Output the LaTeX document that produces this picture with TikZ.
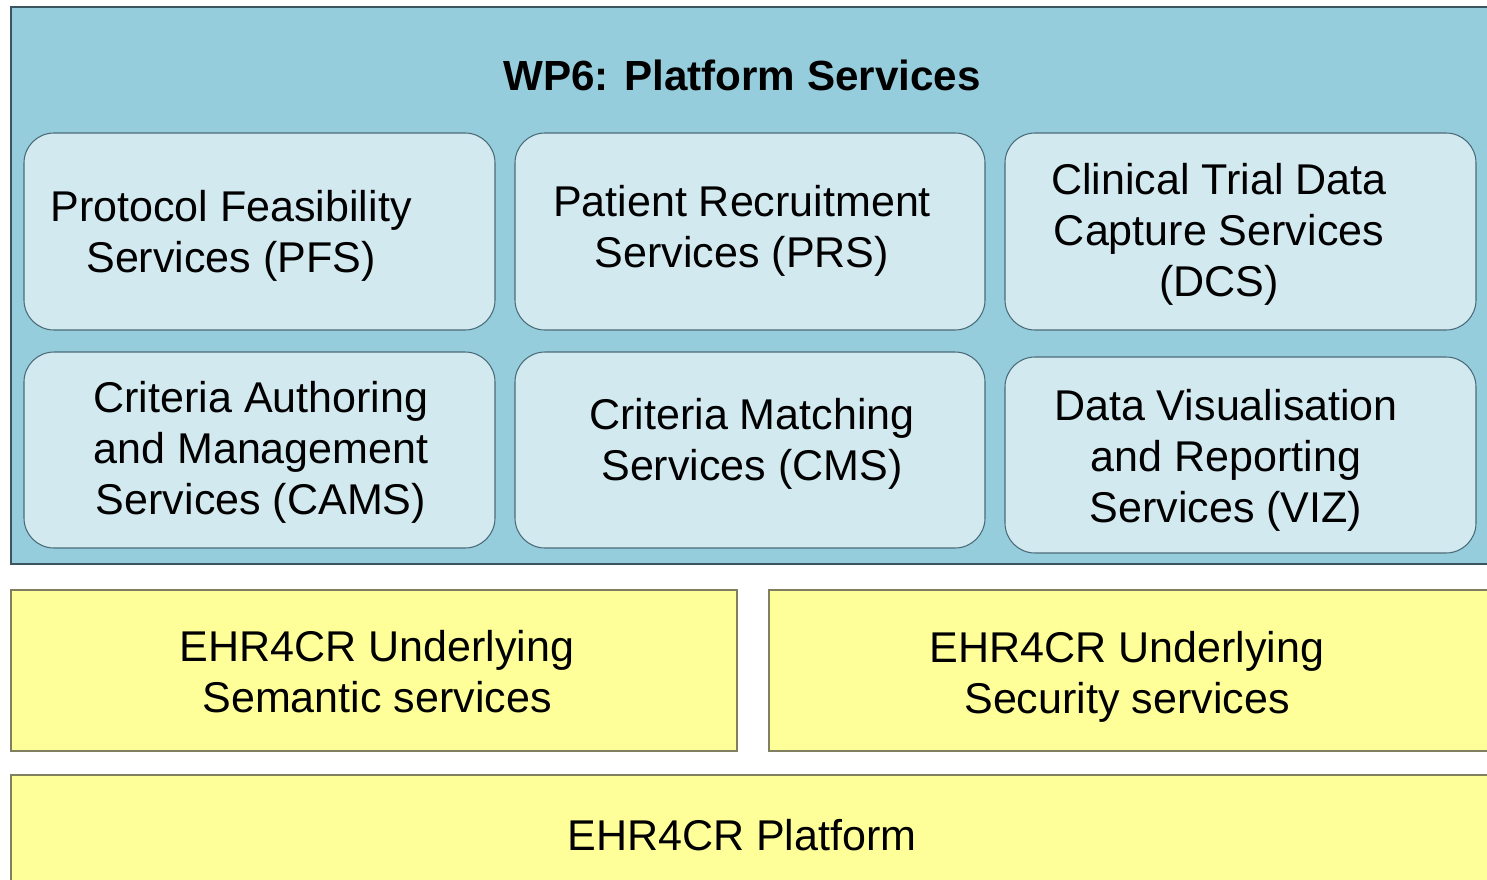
\documentclass[tikz,border=0pt]{standalone}
\usepackage{fontspec}
\setmainfont{Liberation Sans}
\usepackage{tikz}
\definecolor{wpblue}{RGB}{150,205,220}
\definecolor{svcblue}{RGB}{211,233,240}
\definecolor{svcedge}{RGB}{74,106,120}
\definecolor{baseyellow}{RGB}{255,255,153}
\definecolor{baseedge}{RGB}{128,128,96}
\tikzset{
  svcbox/.style={draw=svcedge, line width=0.6pt, fill=svcblue, rounded corners=0.6cm},
  basebox/.style={draw=baseedge, line width=0.8pt, fill=baseyellow},
  svctext/.style={align=center, font=\fontsize{24.5}{29}\selectfont},
}

\begin{document}
\begin{tikzpicture}[x=0.02cm, y=-0.02cm]
			%%%%% START %%%%%
			\useasboundingbox (0, 0) rectangle (1487, 879);
			\clip (0, 0) rectangle (1487, 879);
			
			\draw[draw=svcedge!80!black, line width=0.8pt, fill=wpblue] (11, 7) rectangle (1495, 564);
			\node (wptitle) at (742, 75) {\fontsize{24}{28}\selectfont\bfseries WP6: Platform Services};
			
			\draw[svcbox] (24, 133) rectangle (495, 330);
			\draw[svcbox] (515, 133) rectangle (985, 330);
			\draw[svcbox] (1005, 133) rectangle (1476, 330);
			
			\draw[svcbox] (24, 352) rectangle (495, 548);
			\draw[svcbox] (515, 352) rectangle (985, 548);
			\draw[svcbox] (1005, 357) rectangle (1476, 553);
			
			\node[svctext] (pfs) at (231, 236) {Protocol Feasibility\\Services (PFS)};
			\node[svctext] (prs) at (742, 231) {Patient Recruitment\\Services (PRS)};
			\node[svctext] (dcs) at (1219, 234) {Clinical Trial Data\\Capture Services\\(DCS)};
			
			\node[svctext] (cams) at (261, 452) {Criteria Authoring\\and Management\\Services (CAMS)};
			\node[svctext] (cms) at (752, 444) {Criteria Matching\\Services (CMS)};
			\node[svctext] (viz) at (1226, 460) {Data Visualisation\\and Reporting\\Services (VIZ)};
			
			\draw[basebox] (11, 590) rectangle (737, 751);
			\draw[basebox] (769, 590) rectangle (1495, 751);
			\draw[basebox] (11, 775) rectangle (1495, 895);
			
			\node[svctext] (semantic) at (377, 672) {EHR4CR Underlying\\Semantic services};
			\node[svctext] (security) at (1127, 677) {EHR4CR Underlying\\Security services};
			\node[svctext] (platform) at (742, 835) {EHR4CR Platform};
			
			%%%%% END %%%%%
		\end{tikzpicture}
\end{document}
